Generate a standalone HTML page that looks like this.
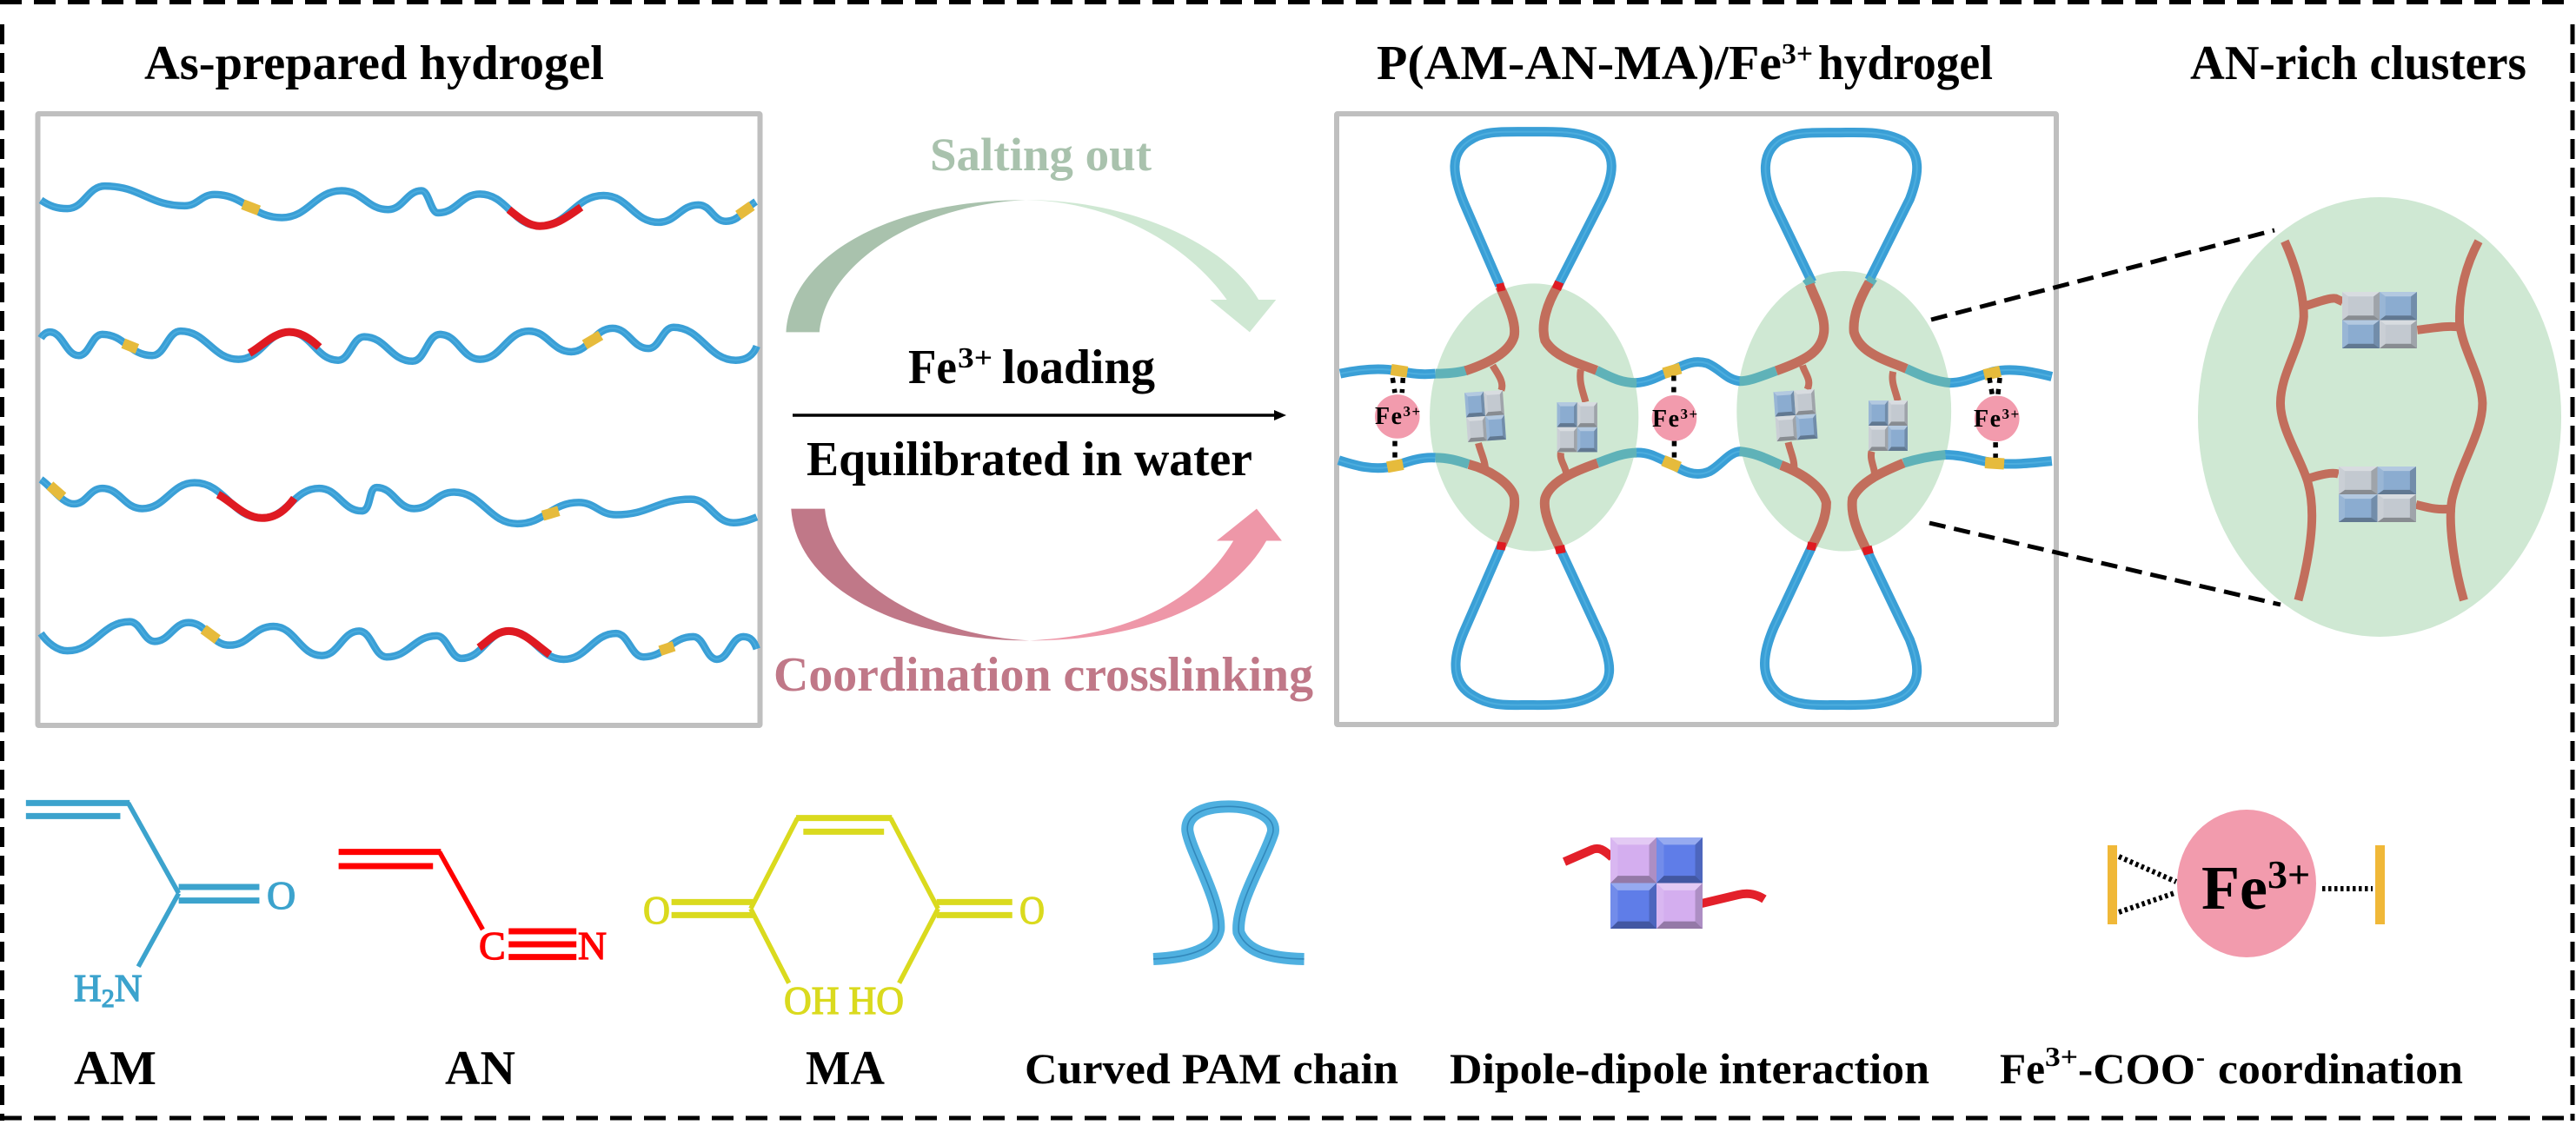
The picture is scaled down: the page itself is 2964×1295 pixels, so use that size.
<!DOCTYPE html>
<html><head><meta charset="utf-8">
<style>
html,body{margin:0;padding:0;background:#fff;width:2964px;height:1295px;overflow:hidden}
svg{display:block}
text{font-family:"Liberation Serif",serif;font-weight:bold;fill:#000}
text.r{font-weight:normal;stroke-width:1.3px}
g.s path,g.s line,g.s use{fill:none;vector-effect:non-scaling-stroke}
</style></head><body>
<svg width="2964" height="1295" viewBox="0 0 2964 1295" xmlns="http://www.w3.org/2000/svg">
<defs>
<linearGradient id="gg" gradientUnits="userSpaceOnUse" x1="690" y1="0" x2="790" y2="0"><stop offset="0" stop-color="#a9c2ad"/><stop offset="1" stop-color="#cfe8d3"/></linearGradient>
<linearGradient id="pg" gradientUnits="userSpaceOnUse" x1="700" y1="0" x2="800" y2="0"><stop offset="0" stop-color="#c07888"/><stop offset="1" stop-color="#ee97a8"/></linearGradient>
<g id="bev"><polygon points="0,0 100,0 84,16 16,16" fill="#fff" opacity=".35"/><polygon points="0,0 16,16 16,84 0,100" fill="#fff" opacity=".12"/><polygon points="100,0 84,16 84,84 100,100" fill="#000" opacity=".18"/><polygon points="0,100 16,84 84,84 100,100" fill="#000" opacity=".3"/></g>
<g id="dip"><rect width="100" height="100" style="fill:var(--a)"/><rect x="100" width="100" height="100" style="fill:var(--b)"/><rect y="100" width="100" height="100" style="fill:var(--b)"/><rect x="100" y="100" width="100" height="100" style="fill:var(--a)"/><use href="#bev"/><use href="#bev" x="100"/><use href="#bev" y="100"/><use href="#bev" x="100" y="100"/></g>
</defs>

<!-- frame -->
<g stroke="#000" stroke-width="5" fill="none">
<line x1="0" y1="2.5" x2="2964" y2="2.5" stroke-dasharray="25 14"/>
<line x1="0" y1="1287" x2="2964" y2="1287" stroke-dasharray="25 14"/>
<line x1="2.5" y1="28" x2="2.5" y2="1290" stroke-dasharray="23 10"/>
<line x1="2960" y1="28" x2="2960" y2="1290" stroke-dasharray="23 10"/>
</g>

<!-- panels -->
<rect x="43.5" y="131" width="831" height="704" fill="none" stroke="#bfbfbf" stroke-width="6" rx="1"/>
<rect x="1538" y="131" width="828" height="703" fill="none" stroke="#bfbfbf" stroke-width="6" rx="1"/>

<!-- titles -->
<text x="166" y="91" font-size="56" textLength="529" lengthAdjust="spacingAndGlyphs">As-prepared hydrogel</text>
<text x="1584" y="91" font-size="56" textLength="466" lengthAdjust="spacingAndGlyphs">P(AM-AN-MA)/Fe</text>
<text x="2050" y="73" font-size="34" textLength="36" lengthAdjust="spacingAndGlyphs">3+</text>
<text x="2092" y="91" font-size="56" textLength="201" lengthAdjust="spacingAndGlyphs">hydrogel</text>
<text x="2520" y="91" font-size="56" textLength="387" lengthAdjust="spacingAndGlyphs">AN-rich clusters</text>

<!-- left chains -->
<g transform="scale(.574 .5421)">
<g class="s" stroke="#3a9fd6" stroke-width="8.5">
<path id="c1" d="M82 425C100 438 115 443 135 443C169 443 176 395 210 395C282 395 298 437 370 437C397 437 403 413 430 413C490 413 505 462 565 462C619 462 631 405 685 405C727 405 736 445 778 445C808 445 815 405 845 405C860 405 863 452 878 452C916 452 924 412 962 412C1016 412 1028 480 1082 480C1140 480 1152 415 1210 415C1260 415 1270 472 1320 472C1356 472 1364 435 1400 435C1425 435 1430 470 1455 470C1482 470 1490 445 1515 428"/>
<path id="c2" d="M82 718C88 708 95 705 100 705C126 705 132 755 158 755C179 755 184 710 205 710C250 710 260 755 305 755C331 755 336 703 362 703C414 703 426 763 478 763C524 763 534 705 580 705C624 705 634 765 678 765C701 765 707 715 730 715C774 715 783 767 827 767C852 767 857 710 882 710C918 710 926 763 962 763C1006 763 1016 703 1060 703C1098 703 1107 747 1145 747C1182 747 1191 697 1228 697C1260 697 1268 740 1300 740C1322 740 1328 695 1350 695C1406 695 1419 765 1475 765C1495 765 1510 755 1517 735"/>
<path id="c3" d="M82 1018C105 1035 125 1070 148 1070C174 1070 179 1037 205 1037C241 1037 249 1080 285 1080C332 1080 343 1025 390 1025C450 1025 465 1100 525 1100C577 1100 588 1037 640 1037C678 1037 687 1085 725 1085C745 1085 738 1035 755 1035C789 1035 796 1080 830 1080C866 1080 874 1045 910 1045C967 1045 980 1112 1037 1112C1092 1112 1105 1067 1160 1067C1194 1067 1201 1093 1235 1093C1302 1093 1318 1060 1385 1060C1423 1060 1432 1110 1470 1110C1490 1110 1505 1103 1517 1098"/>
<path id="c4" d="M82 1345C95 1365 115 1382 135 1382C191 1382 204 1320 260 1320C282 1320 288 1362 310 1362C340 1362 348 1322 378 1322C415 1322 423 1370 460 1370C500 1370 508 1330 548 1330C592 1330 601 1392 645 1392C679 1392 686 1340 720 1340C745 1340 750 1395 775 1395C820 1395 830 1350 875 1350C897 1350 903 1398 925 1398C968 1398 977 1340 1020 1340C1070 1340 1080 1400 1130 1400C1177 1400 1188 1345 1235 1345C1260 1345 1265 1395 1290 1395C1335 1395 1345 1352 1390 1352C1411 1352 1416 1400 1437 1400C1461 1400 1466 1352 1490 1352C1505 1352 1512 1362 1517 1378"/>
</g>
<g class="s" stroke="#4cadde" stroke-width="1.6"><use href="#c1"/><use href="#c2"/><use href="#c3"/><use href="#c4"/></g>
<g class="s" stroke="#df1a22" stroke-width="9">
<path d="M1020 445C1040 462 1060 480 1082 480C1115 480 1140 458 1165 440"/>
<path d="M500 750C525 735 550 705 580 705C605 705 625 722 640 737"/>
<path d="M437 1050C465 1065 490 1100 525 1100C555 1100 575 1080 590 1058"/>
<path d="M960 1375C980 1360 995 1340 1020 1340C1050 1340 1075 1370 1102 1390"/>
</g>
<g class="s" stroke="#e6bb3c" stroke-width="12">
<line x1="487" y1="434" x2="519" y2="447"/><line x1="1480" y1="457" x2="1507" y2="437"/>
<line x1="247" y1="729" x2="275" y2="741"/><line x1="1172" y1="732" x2="1204" y2="712"/>
<line x1="100" y1="1031" x2="126" y2="1055"/><line x1="1088" y1="1095" x2="1120" y2="1085"/>
<line x1="408" y1="1336" x2="436" y2="1358"/><line x1="1323" y1="1382" x2="1351" y2="1372"/>
</g>
</g>

<!-- centre arrows -->
<g transform="translate(850 100) scale(.4464 .4785)">
<path fill="url(#gg)" d="M122 590C135 400 400 272 740 272C1000 272 1250 370 1340 512L1385 512L1317 590L1215 512L1258 512C1150 370 950 275 740 272C450 285 225 430 208 590Z"/>
<path fill="url(#pg)" d="M135 1015L222 1015C235 1180 480 1320 750 1332C1000 1320 1180 1240 1275 1092L1232 1092L1335 1015L1400 1092L1360 1092C1270 1240 1050 1332 750 1332C420 1332 150 1210 135 1015Z"/>
</g>
<text x="1070" y="196" font-size="54" textLength="255" lengthAdjust="spacingAndGlyphs" style="fill:#a9c2ad">Salting out</text>
<text x="1045" y="441" font-size="56" textLength="56" lengthAdjust="spacingAndGlyphs">Fe</text>
<text x="1102" y="423" font-size="34" textLength="40" lengthAdjust="spacingAndGlyphs">3+</text>
<text x="1153" y="441" font-size="56" textLength="176" lengthAdjust="spacingAndGlyphs">loading</text>
<line x1="912" y1="478" x2="1470" y2="478" stroke="#000" stroke-width="3.5"/>
<polygon points="1480,478 1466,472 1466,484" fill="#000"/>
<text x="928" y="547" font-size="56" textLength="513" lengthAdjust="spacingAndGlyphs">Equilibrated in water</text>
<text x="890" y="795" font-size="56" textLength="621" lengthAdjust="spacingAndGlyphs" style="fill:#c07888">Coordination crosslinking</text>

<!-- right panel -->
<g transform="translate(1520 100) scale(.5485 .4785)">
<ellipse cx="447" cy="795" rx="219" ry="322" fill="#cfe8d3"/>
<ellipse cx="1097" cy="780" rx="225" ry="337" fill="#cfe8d3"/>
<g class="s" stroke="#3a9fd6" stroke-width="11">
<path id="l1" d="M375 478L300 280C275 210 270 160 310 130C340 105 380 108 435 108C490 108 540 105 580 130C620 160 615 210 590 270L497 478"/>
<path id="l2" d="M1030 470L950 280C925 210 925 160 960 130C990 108 1030 110 1080 110C1130 110 1180 105 1220 130C1260 160 1255 210 1235 270L1150 465"/>
<path id="l3" d="M378 1105L300 1310C270 1390 280 1440 320 1465C355 1490 390 1487 432 1487C480 1487 530 1490 570 1465C615 1435 610 1390 590 1330L503 1115"/>
<path id="l4" d="M1030 1105L950 1300C920 1380 925 1430 965 1465C1000 1490 1040 1487 1080 1487C1130 1487 1180 1490 1220 1465C1260 1435 1255 1390 1235 1330L1145 1115"/>
<path id="h1" d="M40 690C80 680 120 675 160 683C190 690 210 693 240 690"/>
<path id="h2" d="M660 712C690 710 710 695 735 683C760 670 780 655 810 665C840 680 850 705 880 708"/>
<path id="h3" d="M1318 712C1350 712 1380 695 1410 685C1450 675 1490 685 1533 697"/>
<path id="h4" d="M37 898C70 910 110 925 155 912C185 900 210 890 240 892"/>
<path id="h5" d="M660 880C690 878 710 895 735 907C760 925 785 940 815 925C840 910 855 878 880 877"/>
<path id="h6" d="M1308 885C1350 885 1380 900 1412 905C1450 910 1490 905 1533 900"/>
</g>
<g class="s" stroke="#4cadde" stroke-width="2"><use href="#l1"/><use href="#l2"/><use href="#l3"/><use href="#l4"/><use href="#h1"/><use href="#h2"/><use href="#h3"/><use href="#h4"/><use href="#h5"/><use href="#h6"/></g>
<g class="s" stroke="#5fb2b8" stroke-width="11">
<path d="M240 690C265 690 285 688 305 682"/>
<path d="M578 682C610 700 630 712 662 712"/>
<path d="M878 708C900 708 925 695 955 683"/>
<path d="M1228 678C1260 695 1285 708 1320 712"/>
<path d="M240 892C265 892 285 898 310 908"/>
<path d="M580 905C610 892 635 880 662 880"/>
<path d="M878 877C910 880 935 895 965 910"/>
<path d="M1222 905C1250 895 1280 888 1310 885"/>
<line x1="1018" y1="460" x2="1030" y2="478"/><line x1="1158" y1="460" x2="1148" y2="478"/>
</g>
<g class="s" stroke="#c26e5c" stroke-width="11">
<path d="M375 480C395 530 410 570 405 600C395 640 350 665 303 683"/>
<path d="M497 478C475 520 460 570 470 610C490 650 540 665 578 682"/>
<path d="M955 683C1010 660 1050 640 1055 590C1058 550 1040 520 1025 475"/>
<path d="M1150 470C1130 510 1115 550 1118 590C1130 640 1180 655 1228 678"/>
<path d="M310 908C350 920 395 950 405 985C410 1020 395 1060 378 1105"/>
<path d="M503 1115C480 1060 465 1020 470 990C480 950 530 925 580 905"/>
<path d="M965 910C1010 930 1050 960 1060 1000C1060 1040 1045 1070 1030 1105"/>
<path d="M1145 1115C1125 1070 1110 1030 1115 990C1130 950 1180 925 1222 905"/>
</g>
<g class="s" stroke="#c26e5c" stroke-width="8">
<path d="M360 670C370 690 385 710 378 730"/><path d="M330 857C335 880 345 900 345 925"/>
<path d="M545 680C540 710 550 735 555 758"/><path d="M503 880C500 900 515 915 515 935"/>
<path d="M1010 670C1015 690 1030 705 1020 728"/><path d="M980 855C985 880 995 900 992 925"/>
<path d="M1200 685C1195 710 1205 730 1210 755"/><path d="M1155 877C1150 900 1165 920 1160 940"/>
</g>
<g class="s" stroke="#df1a22" stroke-width="9">
<line x1="369" y1="484" x2="385" y2="480"/><line x1="488" y1="474" x2="506" y2="482"/>
<line x1="369" y1="1103" x2="387" y2="1106"/><line x1="492" y1="1115" x2="512" y2="1111"/>
<line x1="1020" y1="1103" x2="1038" y2="1107"/><line x1="1137" y1="1118" x2="1157" y2="1112"/>
</g>
<g class="s" stroke="#e6bb3c" stroke-width="13">
<line x1="147" y1="680" x2="181" y2="686"/><line x1="139" y1="915" x2="172" y2="908"/>
<line x1="719" y1="689" x2="754" y2="677"/><line x1="718" y1="899" x2="752" y2="915"/>
<line x1="1391" y1="693" x2="1425" y2="684"/><line x1="1393" y1="904" x2="1433" y2="907"/>
</g>
<g class="s" stroke="#000" stroke-width="5.5" stroke-dasharray="6 7">
<line x1="150" y1="700" x2="155" y2="736"/><line x1="172" y1="700" x2="170" y2="736"/>
<line x1="155" y1="852" x2="155" y2="892"/>
<line x1="740" y1="695" x2="740" y2="742"/><line x1="741" y1="852" x2="741" y2="892"/>
<line x1="1402" y1="700" x2="1408" y2="740"/><line x1="1424" y1="700" x2="1420" y2="740"/>
<line x1="1415" y1="855" x2="1415" y2="892"/>
</g>
<ellipse cx="160" cy="793" rx="47" ry="53" fill="#f29bad"/>
<ellipse cx="741" cy="797" rx="47" ry="55" fill="#f29bad"/>
<ellipse cx="1418" cy="798" rx="47" ry="55" fill="#f29bad"/>
</g>
<use href="#dip" transform="translate(1709 479) rotate(-4) scale(.22 .285) translate(-100 -100)" style="--a:#8bacd0;--b:#c3c9d0"/>
<use href="#dip" transform="translate(1791.5 463) scale(.232 .287)" style="--a:#8bacd0;--b:#c3c9d0"/>
<use href="#dip" transform="translate(2066 478) rotate(-4) scale(.235 .285) translate(-100 -100)" style="--a:#8bacd0;--b:#c3c9d0"/>
<use href="#dip" transform="translate(2150 461) scale(.225 .29)" style="--a:#8bacd0;--b:#c3c9d0"/>
<text x="1582" y="488" font-size="28" letter-spacing="1.5">Fe<tspan font-size="17" dy="-9">3+</tspan></text>
<text x="1901" y="491" font-size="28" letter-spacing="1.5">Fe<tspan font-size="17" dy="-9">3+</tspan></text>
<text x="2271" y="491" font-size="28" letter-spacing="1.5">Fe<tspan font-size="17" dy="-9">3+</tspan></text>

<!-- zoom guides -->
<g stroke="#000" stroke-width="5" stroke-dasharray="19 10">
<line x1="2222" y1="368" x2="2617" y2="265"/>
<line x1="2220" y1="602" x2="2624" y2="696"/>
</g>
<ellipse cx="2738" cy="480" rx="209" ry="253" fill="#cfe8d3"/>
<g transform="translate(2200 200) scale(.4873 .3827)">
<g class="s" stroke="#c26e5c" stroke-width="10">
<path d="M880 203C900 260 925 350 925 430C920 520 870 600 870 690C870 770 920 860 935 930C950 1000 950 1100 912 1283"/>
<path d="M1338 203C1310 270 1290 350 1293 450C1300 530 1345 610 1347 690C1347 780 1295 870 1275 980C1265 1050 1280 1180 1303 1283"/>
<path d="M930 397C950 390 985 372 1000 375L1017 385"/>
<path d="M1193 470C1230 465 1260 455 1300 462"/>
<path d="M930 918C950 912 985 895 1007 903"/>
<path d="M1190 995C1220 1005 1250 1015 1280 1005"/>
</g>
</g>
<use href="#dip" transform="translate(2695 336) scale(.43 .325)" style="--a:#c3c9d0;--b:#8bacd0"/>
<use href="#dip" transform="translate(2691 537) scale(.445 .32)" style="--a:#c3c9d0;--b:#8bacd0"/>

<!-- AM -->
<g transform="translate(0 880) scale(.829 .3333)" class="s" stroke="#3ca3cd">
<g stroke-width="7"><line x1="36" y1="133" x2="180" y2="133"/><line x1="36" y1="178" x2="167" y2="178"/><line x1="248" y1="423" x2="360" y2="423"/><line x1="248" y1="470" x2="360" y2="470"/></g>
<g stroke-width="5.5"><line x1="178" y1="133" x2="248" y2="445"/><line x1="248" y1="445" x2="192" y2="698"/></g>
</g>
<text class="r" x="307" y="1046" font-size="46" stroke="#3ca3cd" style="fill:#3ca3cd">O</text>
<text class="r" x="85" y="1152" font-size="44" stroke="#3ca3cd" style="fill:#3ca3cd">H<tspan font-size="30" dy="7">2</tspan><tspan dy="-7">N</tspan></text>

<!-- AN -->
<g transform="translate(0 880) scale(.829 .3333)" class="s" stroke="#ff0000">
<g stroke-width="7"><line x1="470" y1="302" x2="612" y2="302"/><line x1="470" y1="351" x2="601" y2="351"/><line x1="706" y1="576" x2="800" y2="576"/><line x1="706" y1="621" x2="800" y2="621"/><line x1="706" y1="665" x2="800" y2="665"/></g>
<line x1="610" y1="302" x2="670" y2="570" stroke-width="5.5"/>
</g>
<text class="r" x="551" y="1104" font-size="46" stroke="#ff0000" style="fill:#ff0000">C</text>
<text class="r" x="665" y="1104" font-size="46" textLength="33" lengthAdjust="spacingAndGlyphs" stroke="#ff0000" style="fill:#ff0000">N</text>

<!-- MA -->
<g transform="translate(0 880) scale(.829 .3333)" class="s" stroke="#dada1e">
<g stroke-width="7"><line x1="1105" y1="185" x2="1238" y2="185"/><line x1="1115" y1="232" x2="1227" y2="232"/><line x1="932" y1="475" x2="1045" y2="475"/><line x1="932" y1="520" x2="1045" y2="520"/><line x1="1300" y1="475" x2="1405" y2="475"/><line x1="1300" y1="520" x2="1405" y2="520"/></g>
<g stroke-width="5.5"><line x1="1107" y1="185" x2="1042" y2="498"/><line x1="1236" y1="185" x2="1302" y2="498"/><line x1="1042" y1="498" x2="1095" y2="755"/><line x1="1302" y1="498" x2="1248" y2="755"/></g>
</g>
<text class="r" x="740" y="1063" font-size="46" textLength="31" lengthAdjust="spacingAndGlyphs" stroke="#dada1e" style="fill:#dada1e">O</text>
<text class="r" x="1173" y="1063" font-size="46" textLength="29" lengthAdjust="spacingAndGlyphs" stroke="#dada1e" style="fill:#dada1e">O</text>
<text class="r" x="902" y="1167" font-size="46" textLength="138" lengthAdjust="spacingAndGlyphs" stroke="#dada1e" style="fill:#dada1e">OH HO</text>

<!-- PAM loop -->
<g transform="translate(1150 880) scale(1.157 .3333)">
<g class="s" stroke="#4fb0e0" stroke-width="14"><path id="pam" d="M153 672C195 665 215 630 218 570C220 470 190 300 187 230C185 170 205 145 228 145C250 145 275 175 272 235C265 320 235 480 238 580C245 640 265 670 303 672"/></g>
<g class="s" stroke="#3288bb" stroke-width="1.6"><use href="#pam"/></g>
</g>

<!-- dipole legend -->
<g fill="none" stroke="#e3202a" stroke-width="10"><path d="M1800 992L1832 978C1840 975 1845 978 1855 987"/><path d="M1958 1040L2000 1030C2013 1027 2022 1030 2030 1035"/></g>
<use href="#dip" transform="translate(1853 964) scale(.53 .525)" style="--a:#d4aeef;--b:#5f7de8"/>

<!-- Fe legend -->
<rect x="2425" y="973" width="11" height="91" fill="#f0b838"/>
<rect x="2733" y="973" width="11" height="91" fill="#f0b838"/>
<g stroke="#000" stroke-width="6" stroke-dasharray="3.5 3.5">
<line x1="2438" y1="986" x2="2504" y2="1015"/><line x1="2438" y1="1050" x2="2502" y2="1028"/><line x1="2672" y1="1023" x2="2730" y2="1023"/>
</g>
<ellipse cx="2585" cy="1017" rx="80" ry="85" fill="#f29bad"/>
<text x="2533" y="1046" font-size="72">Fe<tspan font-size="46" dy="-24">3+</tspan></text>

<!-- labels -->
<text x="85" y="1248" font-size="56" textLength="95" lengthAdjust="spacingAndGlyphs">AM</text>
<text x="512" y="1248" font-size="56" textLength="81" lengthAdjust="spacingAndGlyphs">AN</text>
<text x="927" y="1248" font-size="56" textLength="91" lengthAdjust="spacingAndGlyphs">MA</text>
<text x="1179" y="1247" font-size="50" textLength="430" lengthAdjust="spacingAndGlyphs">Curved PAM chain</text>
<text x="1668" y="1247" font-size="50" textLength="552" lengthAdjust="spacingAndGlyphs">Dipole-dipole interaction</text>
<text x="2301" y="1247" font-size="50" textLength="52" lengthAdjust="spacingAndGlyphs">Fe</text>
<text x="2353" y="1227" font-size="32" textLength="38" lengthAdjust="spacingAndGlyphs">3+</text>
<text x="2391" y="1247" font-size="50" textLength="135" lengthAdjust="spacingAndGlyphs">-COO</text>
<text x="2527" y="1227" font-size="32" textLength="10" lengthAdjust="spacingAndGlyphs">-</text>
<text x="2552" y="1247" font-size="50" textLength="282" lengthAdjust="spacingAndGlyphs">coordination</text>
</svg>
</body></html>
